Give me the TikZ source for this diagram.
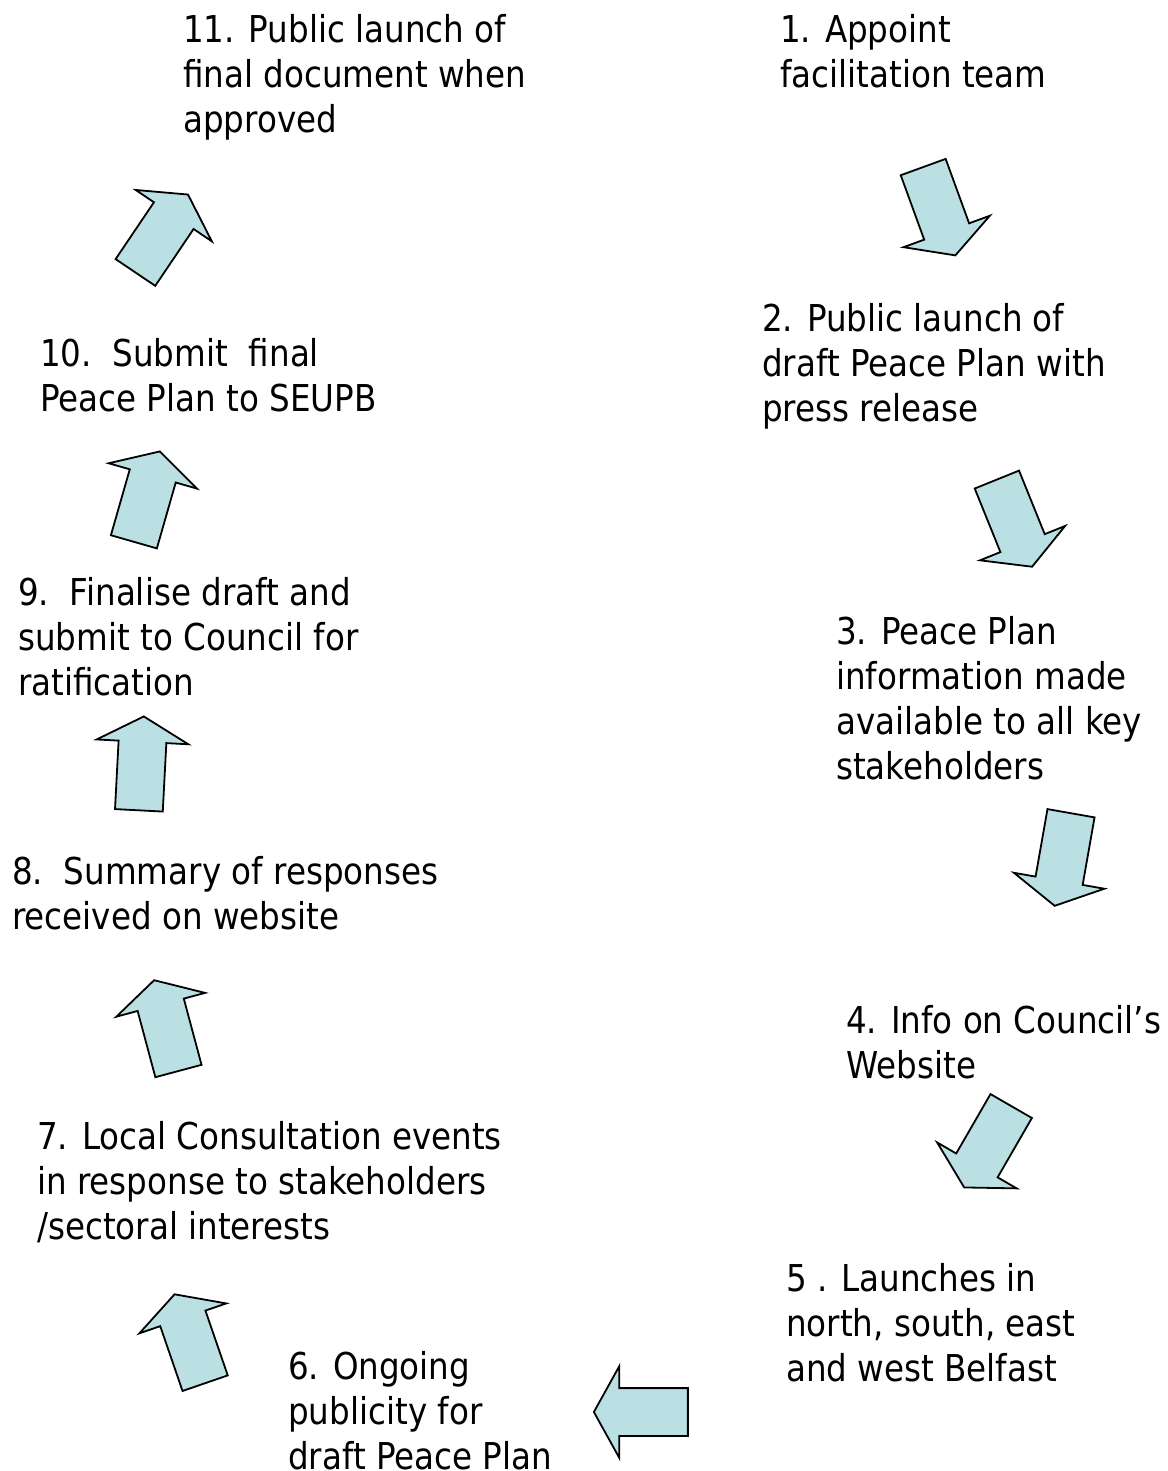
\documentclass[tikz,border=0pt]{standalone}
\usepackage{fontspec}
\setmainfont{DejaVu Sans}[FakeStretch=0.88]
\usepackage{tikz}
\usetikzlibrary{shapes.arrows}
\usepackage{xcolor}
\definecolor{arrowblue}{HTML}{BBE0E3}

\tikzset{
  stepnote/.style={anchor=base west,align=left,inner sep=0pt,
    font=\fontsize{37}{45}\selectfont},
  flowarrow/.style={single arrow,draw=black,fill=arrowblue,line width=1.8pt,
    minimum height=94pt,minimum width=90pt,single arrow head extend=22pt,
    single arrow tip angle=122,inner xsep=0pt,inner ysep=23pt}
}

\begin{document}
\begin{tikzpicture}[x=1pt,y=1pt]
\useasboundingbox (0,0) rectangle (1167,-1471);
% steps (anchored at the baseline of the last line)
\node[stepnote] at (780,-88) (s1) {1. Appoint\\facilitation team};
\node[stepnote] at (762,-421) (s2) {2. Public launch of\\draft Peace Plan with\\press release};
\node[stepnote] at (836,-779) (s3) {3. Peace Plan\\information made\\available to all key\\stakeholders};
\node[stepnote] at (846,-1078) (s4) {4. Info on Council’s\\Website};
\node[stepnote] at (786,-1381) (s5) {5 . Launches in\\north, south, east\\and west Belfast};
\node[stepnote] at (288,-1469) (s6) {6. Ongoing\\publicity for\\draft Peace Plan};
\node[stepnote] at (37,-1239) (s7) {7. Local Consultation events\\in response to stakeholders\\/sectoral interests};
\node[stepnote] at (12,-929) (s8) {8.\ \ Summary of responses\\received on website};
\node[stepnote] at (18,-695) (s9) {9.\ \ Finalise draft and\\submit to Council for\\ratification};
\node[stepnote] at (40,-411) (s10) {10.\ \ Submit\ \ final\\Peace Plan to SEUPB};
\node[stepnote] at (183,-133) (s11) {11. Public launch of\\final document when\\approved};
% arrows
\node[flowarrow,rotate=-70] at (937,-205) (a1) {};
\node[flowarrow,rotate=-68] at (1012,-517) (a2) {};
\node[flowarrow,rotate=-100] at (1064,-853) (a3) {};
\node[flowarrow,rotate=-120] at (991,-1141) (a4) {};
\node[flowarrow,rotate=180] at (647.5,-1412) (a5) {};
\node[flowarrow,rotate=109] at (192,-1345) (a6) {};
\node[flowarrow,rotate=105] at (168,-1032) (a7) {};
\node[flowarrow,rotate=87] at (141,-770) (a8) {};
\node[flowarrow,rotate=74] at (145,-503) (a9) {};
\node[flowarrow,rotate=56] at (158,-239) (a10) {};
\end{tikzpicture}
\end{document}
